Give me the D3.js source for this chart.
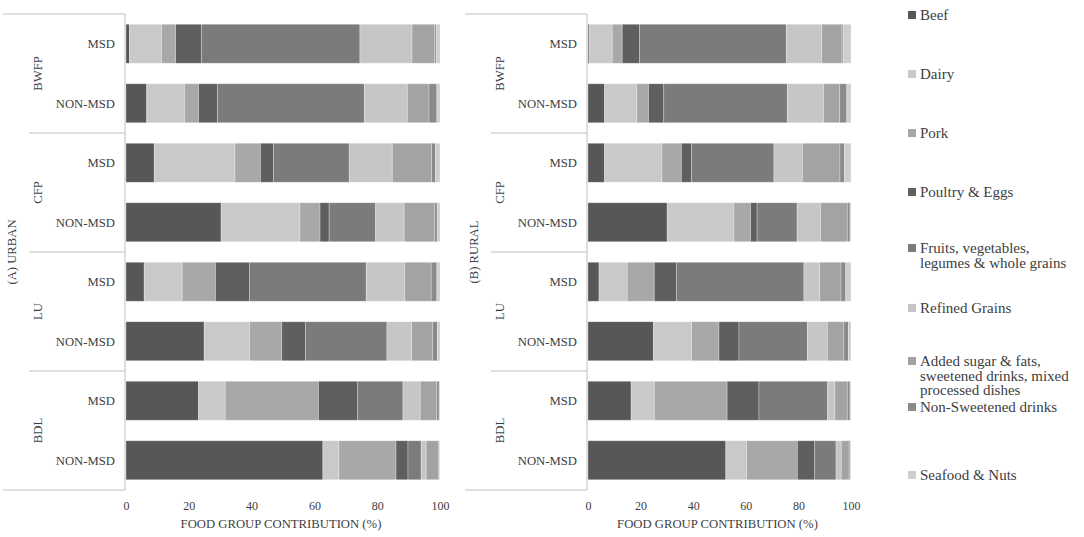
<!DOCTYPE html>
<html>
<head>
<meta charset="utf-8">
<script src="https://cdn.jsdelivr.net/npm/d3@7.9.0/dist/d3.min.js"></script>
<style>
  body { margin: 0; background: #fff; }
  svg { display: block; font-family: "Liberation Serif", "Times New Roman", serif; }
</style>
</head>
<body>
<svg id="chart" width="1084" height="537"></svg>
<script>
// categories
const groups = ["BWFP", "CFP", "LU", "BDL"];
const subgroups = ["MSD", "NON-MSD"];
const foodGroups = [
  "Beef", "Dairy", "Pork", "Poultry & Eggs",
  "Fruits, vegetables, legumes & whole grains", "Refined Grains",
  "Added sugar & fats, sweetened drinks, mixed processed dishes",
  "Non-Sweetened drinks", "Seafood & Nuts"
];
const legendLines = [
  ["Beef"], ["Dairy"], ["Pork"], ["Poultry & Eggs"],
  ["Fruits, vegetables,", "legumes & whole grains"], ["Refined Grains"],
  ["Added sugar & fats,", "sweetened drinks, mixed", "processed dishes"],
  ["Non-Sweetened drinks"], ["Seafood & Nuts"]
];
const greys = ["#575757", "#c9c9c9", "#a8a8a8", "#5f5f5f", "#7b7b7b", "#c6c6c6", "#a3a3a3", "#8a8a8a", "#cecece"];
const xTicks = [0, 20, 40, 60, 80, 100];

// % contribution per row (BWFP MSD, BWFP NON-MSD, CFP MSD, ... BDL NON-MSD), in foodGroups order
const urbanValues = [
  [1.1, 10.2, 4.5, 8.2, 50.5, 16.6, 7.2, 0.5, 1.2],
  [6.6, 12.0, 4.5, 6.0, 46.8, 13.7, 6.9, 2.5, 1.0],
  [9.0, 25.7, 8.1, 4.2, 24.1, 13.7, 12.5, 1.3, 1.4],
  [30.3, 25.1, 6.4, 2.9, 14.8, 9.1, 9.7, 0.8, 0.9],
  [5.8, 12.1, 10.6, 10.8, 37.2, 12.3, 8.4, 1.8, 1.0],
  [24.9, 14.4, 10.3, 7.6, 25.9, 7.9, 6.6, 1.6, 0.8],
  [23.1, 8.5, 29.7, 12.5, 14.4, 5.5, 5.2, 0.8, 0.3],
  [62.7, 5.1, 18.2, 3.8, 4.2, 1.6, 4.0, 0.2, 0.2]
];
const ruralValues = [
  [0.4, 8.8, 3.8, 6.6, 55.8, 13.5, 7.7, 0.4, 3.0],
  [6.3, 12.3, 4.4, 5.8, 47.0, 13.8, 6.1, 2.7, 1.6],
  [6.3, 21.8, 7.4, 3.9, 31.3, 10.8, 14.3, 1.7, 2.5],
  [30.1, 25.4, 6.3, 2.5, 15.2, 8.9, 10.2, 1.0, 0.4],
  [4.2, 10.7, 10.3, 8.5, 48.4, 6.0, 8.1, 1.8, 2.0],
  [24.9, 14.5, 10.4, 7.6, 26.0, 7.6, 6.3, 1.7, 1.0],
  [16.4, 8.8, 27.7, 12.1, 26.1, 2.8, 4.7, 1.0, 0.4],
  [52.4, 7.9, 19.3, 6.6, 8.1, 2.0, 3.0, 0.4, 0.3]
];

const svg = d3.select("#chart");
const color = d3.scaleOrdinal().domain(foodGroups).range(greys);

const rows = groups.flatMap(g => subgroups.map(s => g + "|" + s));
const y = d3.scaleBand().domain(rows).range([14, 490]).paddingInner(0.345).paddingOuter(0.1725);

const panels = [
  { title: "(A) URBAN", values: urbanValues, x0: 126, x1: 440 },
  { title: "(B) RURAL", values: ruralValues, x0: 588, x1: 851 }
];

panels.forEach(p => {
  const x = d3.scaleLinear().domain([0, 100]).range([p.x0, p.x1]);
  const table = rows.map((r, i) => {
    const o = { row: r };
    foodGroups.forEach((f, j) => o[f] = p.values[i][j]);
    return o;
  });
  const series = d3.stack().keys(foodGroups)(table);

  const g = svg.append("g");
  g.selectAll("g.series")
    .data(series)
    .join("g")
    .attr("fill", d => color(d.key))
    .selectAll("rect")
    .data(d => d)
    .join("rect")
    .attr("x", d => x(d[0]))
    .attr("y", d => y(d.data.row))
    .attr("width", d => Math.max(0, x(d[1]) - x(d[0])))
    .attr("height", y.bandwidth())
    .attr("stroke", "rgba(255,255,255,0.35)")
    .attr("stroke-width", 0.8);

  // category frame
  const ax = p.x0 - 1;
  const lineColor = "#bfbfbf";
  g.append("line").attr("x1", ax).attr("x2", ax).attr("y1", 14).attr("y2", 490)
    .attr("stroke", lineColor);
  g.append("line").attr("x1", ax - 122).attr("x2", ax).attr("y1", 14).attr("y2", 14)
    .attr("stroke", lineColor);
  g.append("line").attr("x1", ax - 122).attr("x2", ax).attr("y1", 490).attr("y2", 490)
    .attr("stroke", lineColor);
  groups.slice(1).forEach(gr => {
    const yy = y(gr + "|MSD") - y.step() * y.paddingInner() / 2;
    g.append("line").attr("x1", ax - 96).attr("x2", ax).attr("y1", yy).attr("y2", yy)
      .attr("stroke", lineColor);
  });

  // row labels
  g.selectAll("text.sub")
    .data(rows)
    .join("text")
    .attr("x", ax - 10)
    .attr("y", r => y(r) + y.bandwidth() / 2 + 4.5)
    .attr("text-anchor", "end")
    .attr("font-size", 12.7)
    .attr("fill", "#404040")
    .text(r => r.split("|")[1]);

  // group labels
  groups.forEach(gr => {
    const yc = (y(gr + "|MSD") + y(gr + "|NON-MSD") + y.bandwidth()) / 2;
    g.append("text")
      .attr("transform", `translate(${ax - 83},${yc}) rotate(-90)`)
      .attr("text-anchor", "middle")
      .attr("font-size", 12.7)
      .attr("fill", "#404040")
      .text(gr);
  });

  g.append("text")
    .attr("transform", `translate(${ax - 109},252) rotate(-90)`)
    .attr("text-anchor", "middle")
    .attr("font-size", 12.7)
    .attr("fill", "#404040")
    .text(p.title);

  // x axis
  const xAxis = g.append("g")
    .attr("transform", "translate(0,498)")
    .call(d3.axisBottom(x).tickValues(xTicks).tickSize(0).tickFormat(d3.format("d")));
  xAxis.select(".domain").remove();
  xAxis.selectAll("text")
    .attr("font-family", "Liberation Serif, serif")
    .attr("font-size", 12)
    .attr("fill", "#404040");

  g.append("text")
    .attr("x", (p.x0 + p.x1) / 2 - 2)
    .attr("y", 528)
    .attr("text-anchor", "middle")
    .attr("font-size", 12.7)
    .attr("fill", "#404040")
    .text("FOOD GROUP CONTRIBUTION (%)");
});

// legend
const legendY = [15, 74, 133, 192, 248, 308, 361, 407, 475];
const legend = svg.append("g");
foodGroups.forEach((f, i) => {
  legend.append("rect")
    .attr("x", 908).attr("y", legendY[i] - 4)
    .attr("width", 8).attr("height", 8)
    .attr("fill", color(f));
  legendLines[i].forEach((line, k) => {
    legend.append("text")
      .attr("x", 920)
      .attr("y", legendY[i] + 5 + k * 14.5)
      .attr("font-size", 15)
      .attr("fill", "#404040")
      .text(line);
  });
});
</script>
</body>
</html>
